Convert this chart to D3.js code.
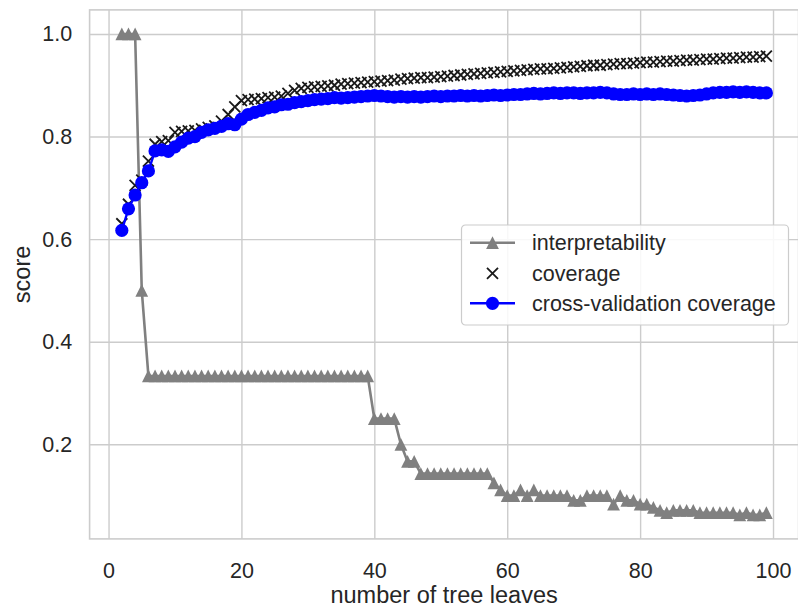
<!DOCTYPE html>
<html>
<head>
<meta charset="utf-8">
<script src="https://cdn.jsdelivr.net/npm/d3@7"></script>
<style>
  body { margin: 0; background: #fff; }
  svg { font-family: "Liberation Sans", Arial, sans-serif; }
</style>
</head>
<body>
<svg id="chart" width="798" height="610"></svg>
<script>
// number of tree leaves, 2..99
var leaves = d3.range(2, 100);

var interpretability = [
  1.0, 1.0, 1.0, 0.5,
  0.3333, 0.3333, 0.3333, 0.3333, 0.3333, 0.3333, 0.3333, 0.3333, 0.3333, 0.3333,
  0.3333, 0.3333, 0.3333, 0.3333, 0.3333, 0.3333, 0.3333, 0.3333, 0.3333, 0.3333,
  0.3333, 0.3333, 0.3333, 0.3333, 0.3333, 0.3333, 0.3333, 0.3333, 0.3333, 0.3333,
  0.3333, 0.3333, 0.3333, 0.3333,
  0.25, 0.25, 0.25, 0.25, 0.2, 0.1667, 0.1667,
  0.1429, 0.1429, 0.1429, 0.1429, 0.1429, 0.1429, 0.1429, 0.1429, 0.1429, 0.1429, 0.1429,
  0.125, 0.1111, 0.1, 0.1, 0.1111, 0.1, 0.1111, 0.1, 0.1, 0.1, 0.1,
  0.1, 0.0909, 0.0909, 0.1, 0.1, 0.1, 0.1, 0.0833, 0.1, 0.0909, 0.0909,
  0.0833, 0.0833, 0.0769, 0.0714, 0.0667, 0.0714, 0.0714, 0.0714, 0.0714,
  0.0667, 0.0667, 0.0667, 0.0667, 0.0667, 0.0667, 0.0625, 0.0667, 0.0625, 0.0625, 0.0667
];

var coverage = [
  0.630, 0.668, 0.705, 0.715, 0.752, 0.785, 0.790, 0.792, 0.808, 0.810,
  0.811, 0.812, 0.815, 0.818, 0.821, 0.830, 0.843, 0.858, 0.870, 0.872,
  0.873, 0.874, 0.876, 0.877, 0.879, 0.884, 0.890, 0.894, 0.896, 0.897,
  0.898, 0.899, 0.900, 0.902, 0.903, 0.904, 0.905, 0.906, 0.907, 0.908,
  0.909, 0.910, 0.912, 0.913, 0.914, 0.915, 0.915, 0.916, 0.917, 0.918,
  0.919, 0.920, 0.921, 0.922, 0.923, 0.924, 0.925, 0.926, 0.927, 0.928,
  0.929, 0.930, 0.931, 0.932, 0.932, 0.933, 0.934, 0.935, 0.936, 0.937,
  0.938, 0.939, 0.939, 0.940, 0.941, 0.942, 0.942, 0.943, 0.944, 0.945,
  0.945, 0.946, 0.947, 0.947, 0.948, 0.949, 0.949, 0.950, 0.951, 0.951,
  0.952, 0.953, 0.953, 0.954, 0.955, 0.955, 0.956, 0.957
];

var cvCoverage = [
  0.617, 0.659, 0.686, 0.710, 0.733, 0.772, 0.774, 0.771, 0.780, 0.789,
  0.797, 0.800, 0.808, 0.813, 0.816, 0.820, 0.825, 0.823, 0.834, 0.843,
  0.847, 0.851, 0.856, 0.858, 0.862, 0.863, 0.866, 0.868, 0.870, 0.872,
  0.873, 0.874, 0.876, 0.875, 0.876, 0.877, 0.878, 0.879, 0.880, 0.879,
  0.878, 0.877, 0.878, 0.877, 0.878, 0.877, 0.878, 0.879, 0.878, 0.879,
  0.879, 0.880, 0.879, 0.880, 0.879, 0.880, 0.881, 0.880, 0.881, 0.882,
  0.882, 0.883, 0.884, 0.883, 0.884, 0.885, 0.884, 0.885, 0.885, 0.884,
  0.885, 0.885, 0.886, 0.885, 0.883, 0.882, 0.882, 0.883, 0.882, 0.883,
  0.882, 0.883, 0.882, 0.881, 0.880, 0.879, 0.880, 0.881, 0.883, 0.885,
  0.886, 0.886, 0.887, 0.886, 0.887, 0.886, 0.885, 0.885
];

var xTicks = [0, 20, 40, 60, 80, 100];
var yTicks = [0.2, 0.4, 0.6, 0.8, 1.0];
var legendLabels = ["interpretability", "coverage", "cross-validation coverage"];

var margin = { top: 9.9, right: 0, bottom: 71, left: 89.6 },
    width = 709,
    height = 529;

var svg = d3.select("#chart");
var g = svg.append("g")
    .attr("transform", "translate(" + margin.left + "," + margin.top + ")");

var x = d3.scaleLinear().domain([-2.85, 103.85]).range([0, width]);
var y = d3.scaleLinear().domain([0.0156, 1.0469]).range([height, 0]);

var textColor = "#262626",
    gridColor = "#cccccc",
    tickFont = "21.5px",
    labelFont = "23.5px";

// grid
g.append("g")
    .attr("transform", "translate(0," + height + ")")
    .call(d3.axisBottom(x).tickValues(xTicks).tickSize(-height).tickFormat(""))
    .call(function(s) {
        s.select(".domain").remove();
        s.selectAll("line").attr("stroke", gridColor).attr("stroke-width", 1.4);
    });
g.append("g")
    .call(d3.axisLeft(y).tickValues(yTicks).tickSize(-width).tickFormat(""))
    .call(function(s) {
        s.select(".domain").remove();
        s.selectAll("line").attr("stroke", gridColor).attr("stroke-width", 1.4);
    });

// tick labels
g.append("g")
    .attr("transform", "translate(0," + height + ")")
    .call(d3.axisBottom(x).tickValues(xTicks).tickSize(0).tickPadding(24).tickFormat(d3.format("d")))
    .call(function(s) {
        s.select(".domain").remove();
        s.selectAll("text").attr("fill", textColor).style("font-size", tickFont);
    });
g.append("g")
    .call(d3.axisLeft(y).tickValues(yTicks).tickSize(0).tickPadding(17.5).tickFormat(d3.format(".1f")))
    .call(function(s) {
        s.select(".domain").remove();
        s.selectAll("text").attr("fill", textColor).style("font-size", tickFont);
    });

// frame
g.append("rect")
    .attr("width", width).attr("height", height)
    .attr("fill", "none")
    .attr("stroke", gridColor)
    .attr("stroke-width", 1.6);

// axis labels
svg.append("text")
    .attr("x", margin.left + width / 2)
    .attr("y", 603)
    .attr("text-anchor", "middle")
    .attr("fill", textColor)
    .style("font-size", labelFont)
    .text("number of tree leaves");
svg.append("text")
    .attr("transform", "translate(30," + (margin.top + height / 2) + ") rotate(-90)")
    .attr("text-anchor", "middle")
    .attr("fill", textColor)
    .style("font-size", labelFont)
    .text("score");

function triPath(s) {
    return "M0," + (-s) + "L" + (-s) + "," + s + "L" + s + "," + s + "Z";
}
function crossPath(s) {
    return "M" + (-s) + "," + (-s) + "L" + s + "," + s + "M" + (-s) + "," + s + "L" + s + "," + (-s);
}

var line = d3.line()
    .x(function(d) { return x(d[0]); })
    .y(function(d) { return y(d[1]); });

var interpData = leaves.map(function(l, i) { return [l, interpretability[i]]; });
var covData = leaves.map(function(l, i) { return [l, coverage[i]]; });
var cvData = leaves.map(function(l, i) { return [l, cvCoverage[i]]; });

var plot = g.append("g");

// interpretability
plot.append("path")
    .datum(interpData)
    .attr("d", line)
    .attr("fill", "none")
    .attr("stroke", "#808080")
    .attr("stroke-width", 2.6);
plot.append("g").selectAll("path")
    .data(interpData)
    .enter().append("path")
    .attr("transform", function(d) { return "translate(" + x(d[0]) + "," + y(d[1]) + ")"; })
    .attr("d", triPath(6.4))
    .attr("fill", "#808080");

// coverage
plot.append("g").selectAll("path")
    .data(covData)
    .enter().append("path")
    .attr("transform", function(d) { return "translate(" + x(d[0]) + "," + y(d[1]) + ")"; })
    .attr("d", crossPath(5.5))
    .attr("fill", "none")
    .attr("stroke", "#1a1a1a")
    .attr("stroke-width", 1.8);

// cross-validation coverage
plot.append("path")
    .datum(cvData)
    .attr("d", line)
    .attr("fill", "none")
    .attr("stroke", "#0000ff")
    .attr("stroke-width", 2.4);
plot.append("g").selectAll("circle")
    .data(cvData)
    .enter().append("circle")
    .attr("cx", function(d) { return x(d[0]); })
    .attr("cy", function(d) { return y(d[1]); })
    .attr("r", 6.6)
    .attr("fill", "#0000ff");

// legend
var legend = svg.append("g").attr("transform", "translate(461.5,225)");
legend.append("rect")
    .attr("width", 327).attr("height", 100)
    .attr("rx", 4)
    .attr("fill", "#fff").attr("fill-opacity", 0.85)
    .attr("stroke", gridColor).attr("stroke-width", 1.2);

var rowY = [17.7, 48.3, 78.3];
var items = legend.selectAll("g.item")
    .data(legendLabels)
    .enter().append("g")
    .attr("class", "item")
    .attr("transform", function(d, i) { return "translate(0," + rowY[i] + ")"; });

items.append("text")
    .attr("x", 70.5)
    .attr("dy", "0.35em")
    .attr("fill", textColor)
    .style("font-size", tickFont)
    .text(function(d) { return d; });

items.filter(function(d, i) { return i === 0; })
    .call(function(s) {
        s.append("line").attr("x1", 8.5).attr("x2", 53.5)
            .attr("stroke", "#808080").attr("stroke-width", 2.6);
        s.append("path").attr("transform", "translate(31,0)")
            .attr("d", triPath(6.4)).attr("fill", "#808080");
    });
items.filter(function(d, i) { return i === 1; })
    .append("path").attr("transform", "translate(31,0)")
    .attr("d", crossPath(5.5))
    .attr("stroke", "#1a1a1a").attr("stroke-width", 1.8);
items.filter(function(d, i) { return i === 2; })
    .call(function(s) {
        s.append("line").attr("x1", 8.5).attr("x2", 53.5)
            .attr("stroke", "#0000ff").attr("stroke-width", 2.4);
        s.append("circle").attr("cx", 31).attr("r", 6.6).attr("fill", "#0000ff");
    });
</script>
</body>
</html>
